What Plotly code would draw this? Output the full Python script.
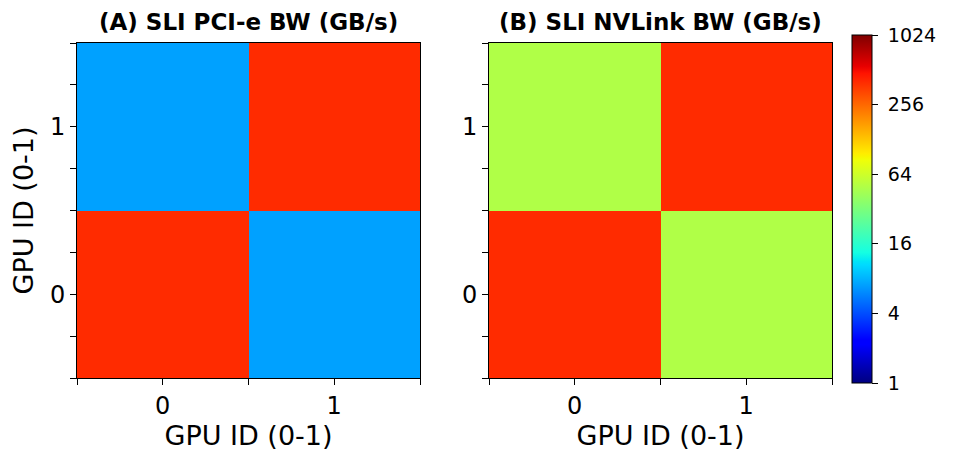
import numpy as np
import plotly.graph_objects as go

# ---- data ----
gpu_ids = [0, 1]
# rows = y (GPU 0, GPU 1), cols = x (GPU 0, GPU 1); bandwidth in GB/s
pcie_bw = [[400.0, 7.1],
           [7.1, 400.0]]
nvlink_bw = [[400.0, 49.5],
             [49.5, 400.0]]
titles = ["(A) SLI PCI-e BW (GB/s)", "(B) SLI NVLink BW (GB/s)"]
axis_title = "GPU ID (0-1)"
cbar_vals = [1, 4, 16, 64, 256, 1024]

# ---- matplotlib jet colormap ----
_jet = {
    "r": [(0, 0), (0.35, 0), (0.66, 1), (0.89, 1), (1, 0.5)],
    "g": [(0, 0), (0.125, 0), (0.375, 1), (0.64, 1), (0.91, 0), (1, 0)],
    "b": [(0, 0.5), (0.11, 1), (0.34, 1), (0.65, 0), (1, 0)],
}
def _interp(seg, t):
    xs = [p[0] for p in seg]; ys = [p[1] for p in seg]
    return float(np.interp(t, xs, ys))
stops = sorted(set([p[0] for k in _jet for p in _jet[k]] + list(np.linspace(0, 1, 21))))
jet = []
for t in stops:
    r, g, b = (_interp(_jet[c], t) for c in "rgb")
    jet.append([t, f"rgb({round(r*255)},{round(g*255)},{round(b*255)})"])

FONT = "DejaVu Sans"
W, H = 953, 465

fig = go.Figure()
for i, data in enumerate([pcie_bw, nvlink_bw]):
    z = np.log2(np.array(data))
    fig.add_trace(go.Heatmap(
        x=gpu_ids, y=gpu_ids, z=z,
        zmin=0, zmax=10, colorscale=jet,
        showscale=(i == 1),
        xaxis="x" if i == 0 else "x2",
        yaxis="y" if i == 0 else "y2",
        colorbar=dict(
            x=852 / W, xanchor="left", xpad=0,
            y=(H - 209) / H, yanchor="middle", ypad=0,
            thickness=20, thicknessmode="pixels",
            len=348, lenmode="pixels",
            outlinewidth=1, outlinecolor="black",
            tickvals=list(np.log2(cbar_vals)),
            ticktext=["\u00a0" + str(v) for v in cbar_vals],
            ticks="outside", ticklen=6, tickcolor="black",
            tickfont=dict(family=FONT, size=19, color="black"),
        ) if i == 1 else None,
        hoverinfo="skip",
    ))

xdoms = [[77 / W, 420 / W], [489 / W, 832 / W]]
ydom = [(H - 378) / H, (H - 43) / H]
xticks = [-0.5, 0, 0.5, 1, 1.5]
yticks = [-0.5, -0.25, 0, 0.25, 0.5, 0.75, 1, 1.25, 1.5]
def lab(v):
    return str(int(v)) if v in (0, 1) else ""

layout = dict(
    width=W, height=H,
    margin=dict(l=0, r=0, t=0, b=0),
    paper_bgcolor="white", plot_bgcolor="white",
    font=dict(family=FONT, color="black"),
    showlegend=False,
)
for i in range(2):
    sx = "" if i == 0 else "2"
    layout["xaxis" + sx] = dict(
        domain=xdoms[i], range=[-0.5, 1.5], anchor="y" + sx,
        showline=True, mirror=True, linecolor="black", linewidth=1,
        showgrid=False, zeroline=False,
        tickvals=xticks, ticktext=[lab(v) for v in xticks],
        ticks="outside", ticklen=6, tickcolor="black",
        tickfont=dict(family=FONT, size=24, color="black"),
        title=dict(text=axis_title, font=dict(family=FONT, size=27, color="black"), standoff=6),
    )
    layout["yaxis" + sx] = dict(
        domain=ydom, range=[-0.5, 1.5], anchor="x" + sx,
        showline=True, mirror=True, linecolor="black", linewidth=1,
        showgrid=False, zeroline=False,
        tickvals=yticks, ticktext=[lab(v) for v in yticks],
        ticks="outside", ticklen=6, tickcolor="black",
        tickfont=dict(family=FONT, size=24, color="black"),
        title=dict(text=axis_title if i == 0 else "",
                   font=dict(family=FONT, size=27, color="black"), standoff=8),
    )
layout["annotations"] = [
    dict(text="<b>" + titles[i] + "</b>", xref="paper", yref="paper",
         x=(xdoms[i][0] + xdoms[i][1]) / 2, y=(H - 22) / H,
         xanchor="center", yanchor="middle", showarrow=False,
         font=dict(family=FONT, size=23, color="black"))
    for i in range(2)
]
fig.update_layout(**layout)
fig.write_html("out.html")
